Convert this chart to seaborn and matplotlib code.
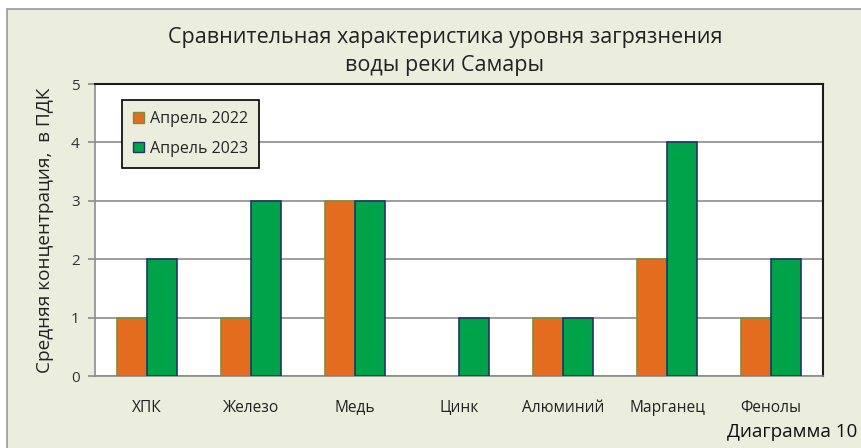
import matplotlib
matplotlib.use("Agg")
import matplotlib.pyplot as plt
import seaborn as sns
import pandas as pd
from matplotlib.patches import Rectangle, Patch

categories = ["ХПК", "Железо", "Медь", "Цинк", "Алюминий", "Марганец", "Фенолы"]
series_names = ["Апрель 2022", "Апрель 2023"]
values_2022 = [1, 1, 3, 0, 1, 2, 1]
values_2023 = [2, 3, 3, 1, 1, 4, 2]
y_ticks = [0, 1, 2, 3, 4, 5]

df = pd.DataFrame({
    "cat": categories * 2,
    "series": [series_names[0]] * len(categories) + [series_names[1]] * len(categories),
    "val": values_2022 + values_2023,
})

sns.set_theme(style="white")
plt.rcParams['font.family'] = ['Open Sans', 'DejaVu Sans']

W, H = 862, 448
fig = plt.figure(figsize=(W / 100, H / 100), dpi=100)
fig.patch.set_facecolor("white")
bg = "#EBEEDD"
bgrect = Rectangle((7 / W, -0.01), 1 - 7 / W + 0.01, (H - 9) / H + 0.01, transform=fig.transFigure,
                   facecolor=bg, edgecolor="#999999", linewidth=1.2, zorder=-10)
fig.add_artist(bgrect)

ax = fig.add_axes([95 / W, (H - 376) / H, (823 - 95) / W, (376 - 84) / H])
ax.set_zorder(1)
ax.set_facecolor("white")

orange = "#E46C1E"
green = "#00A24A"
sns.barplot(data=df, x="cat", y="val", hue="series", order=categories, hue_order=series_names,
            palette=[orange, green], width=0.58, ax=ax, legend=False, saturation=1, zorder=3)

edge_cols = ["#7D8F3C", "#1F3864"]
n = len(categories)
for i, p in enumerate(ax.patches[:2 * n]):
    p.set_edgecolor(edge_cols[i // n])
    p.set_linewidth(1.2 if p.get_height() > 0 else 0)

ax.set_ylim(0, 5)
ax.set_xlim(-0.5, n - 0.5)
ax.set_yticks(y_ticks)
ax.set_yticklabels([str(t) for t in y_ticks], fontsize=11, color="#333333")
ax.grid(axis="y", color="#8C8C8C", linewidth=1.2, zorder=0)
ax.set_axisbelow(True)
ax.set_xticks(range(n))
ax.set_xticklabels(categories, fontsize=11.2, color="#222222")
ax.tick_params(axis="x", length=0, pad=17)
ax.set_xticks([i + 0.5 for i in range(-1, n)], minor=True)
ax.tick_params(axis="x", which="minor", length=5, color="#8C8C8C", width=1.2, direction="out")
ax.tick_params(axis="y", length=5, color="#8C8C8C", width=1.2, direction="out", left=True, pad=6)
ax.set_xlabel("")
ax.set_ylabel("Средняя концентрация,  в ПДК", fontsize=13.7, color="#222222", labelpad=12)

for s in ["left", "bottom"]:
    ax.spines[s].set_color("#8C8C8C")
    ax.spines[s].set_linewidth(1.2)
for s in ["top", "right"]:
    ax.spines[s].set_color("#1A1A1A")
    ax.spines[s].set_linewidth(1.5)

handles = [Patch(facecolor=orange, edgecolor=edge_cols[0]), Patch(facecolor=green, edgecolor=edge_cols[1])]
leg = ax.legend(handles, series_names, loc="upper left", bbox_to_anchor=((122 - 95) / (823 - 95), (376 - 100) / (376 - 84)),
                frameon=True, fancybox=False, fontsize=11.5, handlelength=0.65, handleheight=0.65,
                handletextpad=0.4, labelspacing=0.85, borderpad=0.7, borderaxespad=0)
leg.get_frame().set_facecolor(bg)
leg.get_frame().set_edgecolor("#000000")
leg.get_frame().set_linewidth(1.2)
leg.get_frame().set_alpha(1)
leg.set_zorder(5)

fig.text(445 / W, 1 - 38 / H, "Сравнительная характеристика уровня загрязнения", ha="center", va="center",
         fontsize=15.5, color="#222222")
fig.text(445 / W, 1 - 65 / H, "воды реки Самары", ha="center", va="center", fontsize=15.5, color="#222222")
fig.text(857 / W, 1 - 432 / H, "Диаграмма 10", ha="right", va="center", fontsize=13.6, color="#111111")

fig.savefig("out.png", dpi=100, facecolor=fig.get_facecolor())
